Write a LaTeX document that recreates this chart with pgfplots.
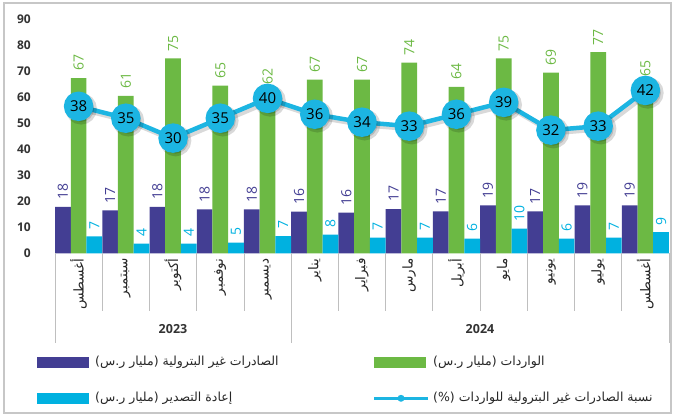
\documentclass[border=0pt]{standalone}
\usepackage{pgfplots}
\pgfplotsset{compat=1.18}
\usepackage{pgfplotstable}
\usepackage{fontspec}
\setmainfont{Open Sans}
\newfontfamily\arabicfont[Script=Arabic]{DejaVu Sans}
\TeXXeTstate=1
\newcommand\ar[1]{{\arabicfont\beginR #1\endR}}
\definecolor{cPur}{HTML}{433E93}
\definecolor{cGrn}{HTML}{6CB944}
\definecolor{cCyn}{HTML}{00B1E0}
\definecolor{cLine}{HTML}{1CB5E2}
\definecolor{cSep}{HTML}{BFBFBF}

\pgfplotstableread{
x y lab
0 17.8 18
1 16.5 17
2 17.8 18
3 16.9 18
4 16.9 18
5 16.0 16
6 15.6 16
7 17.0 17
8 16.1 17
9 18.4 19
10 16.1 17
11 18.4 19
12 18.4 19
}\tabPur

\pgfplotstableread{
x y lab
0 67.3 67
1 60.4 61
2 74.8 75
3 64.4 65
4 62.0 62
5 66.7 67
6 66.7 67
7 73.2 74
8 63.9 64
9 74.8 75
10 69.4 69
11 77.2 77
12 65.2 65
}\tabGrn

\pgfplotstableread{
x y lab
0 6.5 7
1 3.7 4
2 3.7 4
3 4.1 5
4 6.6 7
5 7.2 8
6 6.0 7
7 6.0 7
8 5.6 6
9 9.5 10
10 5.6 6
11 6.0 7
12 8.1 9
}\tabCyn

\pgfplotstableread{
x y lab
0 38 38
1 35 35
2 30 30
3 35 35
4 40 40
5 36 36
6 34 34
7 33 33
8 36 36
9 39 39
10 32 32
11 33 33
12 42 42
}\tabLine

\begin{document}
\begin{tikzpicture}
\useasboundingbox (0,0) rectangle (673bp,-416bp);
\draw[black!22, line width=1.2bp] (4bp,-3bp) rectangle (671bp,-413bp);

\begin{axis}[
  at={(55bp,-253.3bp)}, anchor=south west,
  scale only axis, width=614bp, height=234.4bp,
  xmin=-0.5, xmax=12.5, ymin=0, ymax=90,
  ybar=0pt, bar width=15.7bp,
  axis line style={draw=none}, major tick length=0pt,
  ytick={0,10,...,90},
  /pgf/number format/assume math mode=true,
  yticklabel style={font=\fontsize{12bp}{14bp}\selectfont\bfseries, text=black!80, inner sep=0pt, xshift=-24bp},
  xtick={0,...,12},
  xticklabels={{\ar{أغسطس}},{\ar{سبتمبر}},{\ar{أكتوبر}},{\ar{نوفمبر}},{\ar{ديسمبر}},{\ar{يناير}},{\ar{فبراير}},{\ar{مارس}},{\ar{أبريل}},{\ar{مايو}},{\ar{يونيو}},{\ar{يوليو}},{\ar{أغسطس}}},
  xticklabel style={rotate=90, anchor=east, inner xsep=5bp, inner ysep=0pt, font=\fontsize{13.5bp}{15bp}\selectfont, text=black!85},
  point meta=explicit symbolic,
  nodes near coords,
  every node near coord/.append style={rotate=90, anchor=west, inner xsep=7bp, inner ysep=0pt, font=\fontsize{14bp}{16bp}\selectfont},
  clip=false,
]
\addplot[fill=cPur, draw=none, every node near coord/.append style={text=cPur}] table[x=x, y=y, meta=lab] {\tabPur};
\addplot[fill=cGrn, draw=none, every node near coord/.append style={text=cGrn}] table[x=x, y=y, meta=lab] {\tabGrn};
\addplot[fill=cCyn, draw=none, every node near coord/.append style={text=cCyn}] table[x=x, y=y, meta=lab] {\tabCyn};
\end{axis}

\begin{axis}[
  at={(55bp,-253.3bp)}, anchor=south west,
  scale only axis, width=614bp, height=234.4bp,
  xmin=-0.5, xmax=12.5, ymin=1, ymax=60,
  hide axis, clip=false,
]
\addplot[black, opacity=0.15, line width=5.5bp, mark=*, mark size=13bp, mark options={draw=none, fill=black}, xshift=2.5bp, yshift=-2.5bp] table[x=x, y=y] {\tabLine};
\addplot[cLine, line width=4.5bp, mark=*, mark size=12.5bp, mark options={draw=none, fill=cLine},
  point meta=explicit symbolic, nodes near coords,
  every node near coord/.append style={anchor=center, text=black, inner sep=0pt, font=\fontsize{15bp}{17bp}\selectfont}] table[x=x, y=y, meta=lab] {\tabLine};
\end{axis}

% category separators
\foreach \i in {1,2,3,4,6,7,8,9,10,11,12} {
  \draw[cSep, line width=0.8bp] (55bp+\i*47.2308bp,-253.3bp) -- ++(0,-57.4bp);
}
\foreach \i in {0,5,13} {
  \draw[cSep, line width=0.8bp] (55bp+\i*47.2308bp,-253.3bp) -- ++(0,-89.4bp);
}
\node[font=\fontsize{12.5bp}{14bp}\selectfont\bfseries, text=black!80] at (173bp,-329bp) {2023};
\node[font=\fontsize{12.5bp}{14bp}\selectfont\bfseries, text=black!80] at (480bp,-329bp) {2024};

% legend
\fill[cPur] (37bp,-356.7bp) rectangle (89bp,-367.7bp);
\node[anchor=west, inner sep=0pt, font=\fontsize{12.5bp}{15bp}\selectfont, text=black!85] at (95bp,-362.2bp) {\ar{الصادرات غير البترولية (مليار ر.س)}};
\fill[cGrn] (374bp,-356.7bp) rectangle (426bp,-367.7bp);
\node[anchor=west, inner sep=0pt, font=\fontsize{12.5bp}{15bp}\selectfont, text=black!85] at (433bp,-362.2bp) {\ar{الواردات (مليار ر.س)}};
\fill[cCyn] (37bp,-392.7bp) rectangle (89bp,-404bp);
\node[anchor=west, inner sep=0pt, font=\fontsize{12.5bp}{15bp}\selectfont, text=black!85] at (95bp,-398.3bp) {\ar{إعادة التصدير (مليار ر.س)}};
\draw[cLine, line width=3bp] (374bp,-398.3bp) -- (428bp,-398.3bp);
\fill[cLine] (401bp,-398.3bp) circle (3.5bp);
\node[anchor=west, inner sep=0pt, font=\fontsize{12.5bp}{15bp}\selectfont, text=black!85] at (433bp,-398.3bp) {\ar{نسبة الصادرات غير البترولية للواردات (\%)}};
\end{tikzpicture}
\end{document}
